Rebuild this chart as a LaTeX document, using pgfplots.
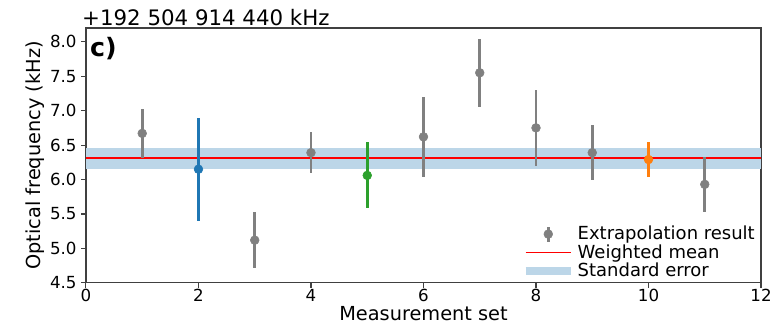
\documentclass[border=0pt]{standalone}
\usepackage{fontspec}
\setmainfont{DejaVu Sans}
\usepackage{pgfplots}
\pgfplotsset{compat=1.18}
\definecolor{tabblue}{RGB}{31,119,180}
\definecolor{tabgreen}{RGB}{44,160,44}
\definecolor{taborange}{RGB}{255,127,14}
\definecolor{ptgray}{RGB}{128,128,128}
\definecolor{bandc}{RGB}{188,214,232}
\begin{document}
\begin{tikzpicture}
\begin{axis}[
  scale only axis,
  width=506.5pt, height=191.25pt,
  xmin=0, xmax=12, ymin=4.5, ymax=8.2,
  xtick={0,2,...,12},
  ytick={4.5,5,5.5,6,6.5,7,7.5,8},
  /pgf/number format/assume math mode=true,
  yticklabel style={/pgf/number format/.cd, fixed, fixed zerofill, precision=1},
  ticklabel style={font=\fontsize{12.5}{14}\selectfont},
  xticklabel style={yshift=2pt},
  tick align=outside,
  major tick length=3.5pt,
  tick style={black!75, line width=0.8pt},
  axis line style={black!75, line width=0.9pt},
  xtick pos=bottom, ytick pos=left,
  xlabel={Measurement set},
  ylabel={Optical frequency (kHz)},
  label style={font=\fontsize{14.5}{16}\selectfont},
  xlabel style={yshift=4pt},
  ylabel style={yshift=-3pt},
  legend style={draw=none, fill=none, at={(1,0)}, anchor=south east,
    font=\fontsize{13.5}{14}\selectfont, row sep=-2pt, inner sep=1pt,
    xshift=-1.5pt, yshift=0pt},
  legend cell align=left,
  clip=false,
]
\addlegendimage{legend image code/.code={
  \draw[ptgray, line width=2pt] (0.6cm,-0.2cm) -- (0.6cm,0.2cm);
  \fill[ptgray] (0.6cm,0cm) circle (3.3pt);}}
\addlegendentry{Extrapolation result}
\addlegendimage{legend image code/.code={
  \draw[draw=red, line width=1.3pt] (0cm,0cm) -- (1.2cm,0cm);}}
\addlegendentry{Weighted mean}
\addlegendimage{legend image code/.code={
  \draw[draw=bandc, line width=6pt] (0cm,0cm) -- (1.2cm,0cm);}}
\addlegendentry{Standard error}

\addplot[draw=none, fill=bandc, forget plot] coordinates {(0,6.16) (12,6.16) (12,6.46) (0,6.46)} -- cycle;
\addplot[red, line width=1.1pt, forget plot] coordinates {(0,6.31) (12,6.31)};

\addplot[only marks, mark=*, mark size=3.3pt, color=ptgray, forget plot,
  error bars/.cd, y dir=both, y explicit, error mark=none,
  error bar style={line width=2pt, ptgray}]
  table[x=x, y=y, y error=e] {
  x y e
  1 6.67 0.36
  3 5.12 0.41
  4 6.39 0.30
  6 6.62 0.58
  7 7.55 0.49
  8 6.75 0.55
  9 6.39 0.40
  11 5.93 0.40
  };
\addplot[only marks, mark=*, mark size=3.3pt, color=tabblue, forget plot,
  error bars/.cd, y dir=both, y explicit, error mark=none,
  error bar style={line width=2pt, tabblue}]
  table[x=x, y=y, y error=e] {
  x y e
  2 6.15 0.75
  };
\addplot[only marks, mark=*, mark size=3.3pt, color=tabgreen, forget plot,
  error bars/.cd, y dir=both, y explicit, error mark=none,
  error bar style={line width=2pt, tabgreen}]
  table[x=x, y=y, y error=e] {
  x y e
  5 6.06 0.48
  };
\addplot[only marks, mark=*, mark size=3.3pt, color=taborange, forget plot,
  error bars/.cd, y dir=both, y explicit, error mark=none,
  error bar style={line width=2pt, taborange}]
  table[x=x, y=y, y error=e] {
  x y e
  10 6.29 0.26
  };

\node[anchor=base west, inner sep=0pt, xshift=-3pt, yshift=1.5pt,
  font=\fontsize{16}{18}\selectfont] at (rel axis cs:0,1) {+192 504 914 440 kHz};
\node[anchor=north west, inner sep=0pt, xshift=3pt, yshift=-7pt,
  font=\fontsize{19}{20}\selectfont\bfseries] at (rel axis cs:0,1) {c)};
\end{axis}
\pgfresetboundingbox
\path ([xshift=-64.5pt,yshift=-33pt]current axis.south west) rectangle ([xshift=9pt,yshift=21pt]current axis.north east);
\end{tikzpicture}
\end{document}
